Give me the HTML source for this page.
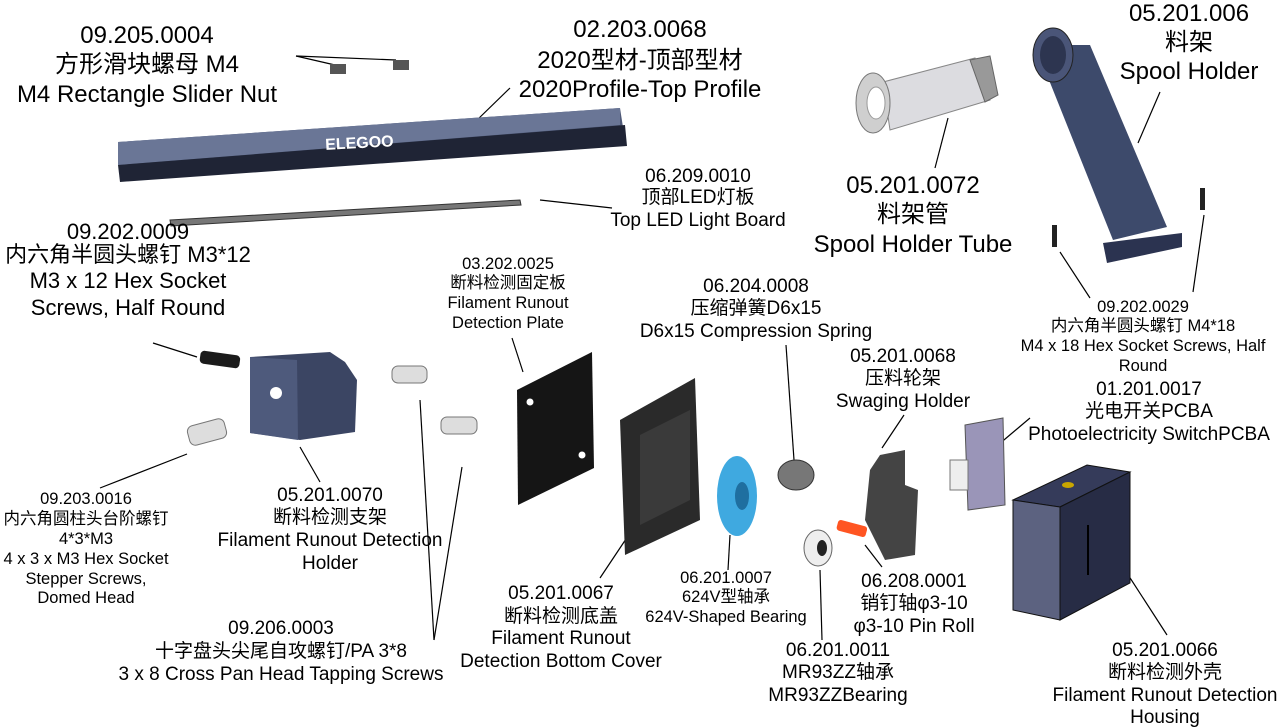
<!DOCTYPE html>
<html><head><meta charset="utf-8"><style>
body{margin:0;width:1287px;height:723px;background:#fff;overflow:hidden;position:relative;font-family:"Liberation Sans","Noto Sans CJK SC",sans-serif;color:#000}
.t{position:absolute;transform:translateX(-50%);white-space:nowrap;text-align:center;line-height:1}
.a{font-size:24px;margin-top:-1px}.b{font-size:22px;margin-top:-1px}.c{font-size:19px;margin-top:-1px}.d{font-size:16.5px;margin-top:-1px}
svg{position:absolute;left:0;top:0}
</style></head><body>
<svg width="1287" height="723" viewBox="0 0 1287 723">
<g stroke="#000" stroke-width="1.2" fill="none">
<line x1="296" y1="56" x2="335" y2="65"/><line x1="296" y1="56" x2="396" y2="60"/>
<line x1="475" y1="122" x2="510" y2="88"/>
<line x1="540" y1="200" x2="612" y2="208"/>
<line x1="935" y1="168" x2="948" y2="118"/>
<line x1="1138" y1="143" x2="1160" y2="92"/>
<line x1="1090" y1="298" x2="1060" y2="252"/>
<line x1="1193" y1="292" x2="1204" y2="215"/>
<line x1="153" y1="343" x2="197" y2="357"/>
<line x1="523" y1="372" x2="512" y2="338"/>
<line x1="794" y1="460" x2="786" y2="345"/>
<line x1="882" y1="448" x2="904" y2="415"/>
<line x1="998" y1="445" x2="1030" y2="418"/>
<line x1="100" y1="488" x2="187" y2="454"/>
<line x1="320" y1="482" x2="300" y2="447"/>
<line x1="434" y1="640" x2="420" y2="400"/>
<line x1="434" y1="640" x2="462" y2="467"/>
<line x1="600" y1="578" x2="630" y2="533"/>
<line x1="728" y1="570" x2="730" y2="535"/>
<line x1="822" y1="640" x2="820" y2="570"/>
<line x1="882" y1="567" x2="865" y2="545"/>
<line x1="1167" y1="635" x2="1123" y2="567"/>
</g>
<rect x="330" y="64" width="16" height="10" fill="#555"/><rect x="393" y="60" width="16" height="10" fill="#555"/>
<polygon points="118,142 620,108 625,140 120,180" fill="#4f5a78"/>
<polygon points="118,142 620,108 620,125 118,165" fill="#6a7696"/>
<polygon points="118,165 625,125 627,146 120,182" fill="#1f2435"/>
<text x="325" y="148" font-family="Liberation Sans" font-weight="bold" font-size="16" fill="#fff" transform="rotate(-3 360 140)">ELEGOO</text>
<polygon points="170,220 520,200 521,205 171,226" fill="#777" stroke="#333"/>
<polygon points="883,82 975,58 990,100 890,130" fill="#dcdce0" stroke="#888"/>
<polygon points="970,60 990,56 998,95 985,102" fill="#999" stroke="#666"/>
<ellipse cx="873" cy="103" rx="17" ry="30" fill="#cfcfcf" stroke="#777"/>
<ellipse cx="876" cy="103" rx="9" ry="16" fill="#fff" stroke="#999"/>
<polygon points="1035,45 1090,45 1167,227 1113,240" fill="#3d4a6b"/>
<ellipse cx="1053" cy="55" rx="20" ry="27" fill="#4a5578" stroke="#222"/>
<ellipse cx="1053" cy="55" rx="13" ry="19" fill="#2d3550"/>
<polygon points="1103,243 1182,233 1182,247 1107,263" fill="#2b3350"/>
<rect x="1052" y="225" width="5" height="22" fill="#222"/><rect x="1200" y="188" width="5" height="22" fill="#222"/>
<rect x="200" y="353" width="40" height="13" rx="4" fill="#1b1b1b" transform="rotate(8 220 359)"/>
<rect x="188" y="422" width="38" height="20" rx="6" fill="#ddd" stroke="#777" transform="rotate(-15 207 432)"/>
<rect x="392" y="366" width="35" height="17" rx="6" fill="#ddd" stroke="#777"/>
<rect x="441" y="417" width="36" height="17" rx="6" fill="#ddd" stroke="#777"/>
<polygon points="250,357 330,352 345,362 357,380 355,432 300,440 250,433" fill="#3b4563"/>
<polygon points="250,357 297,360 298,440 250,433" fill="#4e5a7c"/>
<circle cx="276" cy="393" r="6" fill="#fff"/>
<polygon points="517,390 592,352 594,468 518,505" fill="#151515"/>
<circle cx="530" cy="402" r="3.5" fill="#fff"/><circle cx="582" cy="455" r="3.5" fill="#fff"/>
<polygon points="620,420 695,378 700,520 625,555" fill="#2a2a2a"/>
<polygon points="640,435 690,410 690,500 640,525" fill="#3a3a3a"/>
<ellipse cx="737" cy="496" rx="20" ry="40" fill="#3fa9e0"/><ellipse cx="742" cy="496" rx="7" ry="14" fill="#1f6fa0"/>
<ellipse cx="796" cy="475" rx="18" ry="15" fill="#777" stroke="#333"/>
<polygon points="880,455 905,450 905,485 918,490 915,555 885,560 865,520 870,470" fill="#444"/>
<ellipse cx="818" cy="548" rx="14" ry="18" fill="#eee" stroke="#666"/><ellipse cx="822" cy="548" rx="5" ry="8" fill="#222"/>
<rect x="837" y="523" width="30" height="11" rx="3" fill="#ff5522" transform="rotate(15 852 528)"/>
<polygon points="965,425 1003,418 1005,505 968,510" fill="#9a95b8" stroke="#555"/>
<rect x="950" y="460" width="18" height="30" fill="#eee" stroke="#777"/>
<polygon points="1013,500 1087,465 1130,472 1060,507" fill="#353b5a" stroke="#111"/>
<polygon points="1060,507 1130,472 1130,583 1060,620" fill="#272c45" stroke="#111"/>
<polygon points="1013,500 1060,507 1060,620 1013,610" fill="#5c6280" stroke="#111"/>
<ellipse cx="1068" cy="485" rx="6" ry="3" fill="#c9a600"/>
<line x1="1088" y1="525" x2="1088" y2="575" stroke="#000" stroke-width="2"/>
</svg>

<div class="t a" style="left:147px;top:25px">09.205.0004</div>
<div class="t a" style="left:147px;top:54px">方形滑块螺母 M4</div>
<div class="t a" style="left:147px;top:84px">M4 Rectangle Slider Nut</div>

<div class="t a" style="left:640px;top:19px">02.203.0068</div>
<div class="t a" style="left:640px;top:50px">2020型材-顶部型材</div>
<div class="t a" style="left:640px;top:79px">2020Profile-Top Profile</div>

<div class="t a" style="left:1189px;top:3px">05.201.006</div>
<div class="t a" style="left:1189px;top:32px">料架</div>
<div class="t a" style="left:1189px;top:61px">Spool Holder</div>

<div class="t c" style="left:698px;top:168px">06.209.0010</div>
<div class="t c" style="left:698px;top:189px">顶部LED灯板</div>
<div class="t c" style="left:698px;top:212px">Top LED Light Board</div>

<div class="t a" style="left:913px;top:175px">05.201.0072</div>
<div class="t a" style="left:913px;top:204px">料架管</div>
<div class="t a" style="left:913px;top:234px">Spool Holder Tube</div>

<div class="t b" style="left:128px;top:222px">09.202.0009</div>
<div class="t b" style="left:128px;top:245px">内六角半圆头螺钉 M3*12</div>
<div class="t b" style="left:128px;top:271px">M3 x 12 Hex Socket</div>
<div class="t b" style="left:128px;top:298px">Screws, Half Round</div>

<div class="t d" style="left:508px;top:257px">03.202.0025</div>
<div class="t d" style="left:508px;top:276px">断料检测固定板</div>
<div class="t d" style="left:508px;top:296px">Filament Runout</div>
<div class="t d" style="left:508px;top:316px">Detection Plate</div>

<div class="t c" style="left:756px;top:278px">06.204.0008</div>
<div class="t c" style="left:756px;top:300px">压缩弹簧D6x15</div>
<div class="t c" style="left:756px;top:323px">D6x15 Compression Spring</div>

<div class="t d" style="left:1143px;top:300px">09.202.0029</div>
<div class="t d" style="left:1143px;top:319px">内六角半圆头螺钉 M4*18</div>
<div class="t d" style="left:1143px;top:339px">M4 x 18 Hex Socket Screws, Half</div>
<div class="t d" style="left:1143px;top:359px">Round</div>

<div class="t c" style="left:903px;top:348px">05.201.0068</div>
<div class="t c" style="left:903px;top:370px">压料轮架</div>
<div class="t c" style="left:903px;top:393px">Swaging Holder</div>

<div class="t c" style="left:1149px;top:381px">01.201.0017</div>
<div class="t c" style="left:1149px;top:403px">光电开关PCBA</div>
<div class="t c" style="left:1149px;top:426px">Photoelectricity SwitchPCBA</div>

<div class="t d" style="left:86px;top:492px">09.203.0016</div>
<div class="t d" style="left:86px;top:512px">内六角圆柱头台阶螺钉</div>
<div class="t d" style="left:86px;top:532px">4*3*M3</div>
<div class="t d" style="left:86px;top:552px">4 x 3 x M3 Hex Socket</div>
<div class="t d" style="left:86px;top:572px">Stepper Screws,</div>
<div class="t d" style="left:86px;top:591px">Domed Head</div>

<div class="t c" style="left:330px;top:487px">05.201.0070</div>
<div class="t c" style="left:330px;top:509px">断料检测支架</div>
<div class="t c" style="left:330px;top:532px">Filament Runout Detection</div>
<div class="t c" style="left:330px;top:555px">Holder</div>

<div class="t d" style="left:726px;top:571px">06.201.0007</div>
<div class="t d" style="left:726px;top:590px">624V型轴承</div>
<div class="t d" style="left:726px;top:610px">624V-Shaped Bearing</div>

<div class="t c" style="left:914px;top:573px">06.208.0001</div>
<div class="t c" style="left:914px;top:595px">销钉轴φ3-10</div>
<div class="t c" style="left:914px;top:618px">φ3-10 Pin Roll</div>

<div class="t c" style="left:561px;top:585px">05.201.0067</div>
<div class="t c" style="left:561px;top:608px">断料检测底盖</div>
<div class="t c" style="left:561px;top:630px">Filament Runout</div>
<div class="t c" style="left:561px;top:653px">Detection Bottom Cover</div>

<div class="t c" style="left:281px;top:620px">09.206.0003</div>
<div class="t c" style="left:281px;top:643px">十字盘头尖尾自攻螺钉/PA 3*8</div>
<div class="t c" style="left:281px;top:666px">3 x 8 Cross Pan Head Tapping Screws</div>

<div class="t c" style="left:838px;top:642px">06.201.0011</div>
<div class="t c" style="left:838px;top:664px">MR93ZZ轴承</div>
<div class="t c" style="left:838px;top:687px">MR93ZZBearing</div>

<div class="t c" style="left:1165px;top:642px">05.201.0066</div>
<div class="t c" style="left:1165px;top:664px">断料检测外壳</div>
<div class="t c" style="left:1165px;top:687px">Filament Runout Detection</div>
<div class="t c" style="left:1165px;top:709px">Housing</div>
</body></html>
